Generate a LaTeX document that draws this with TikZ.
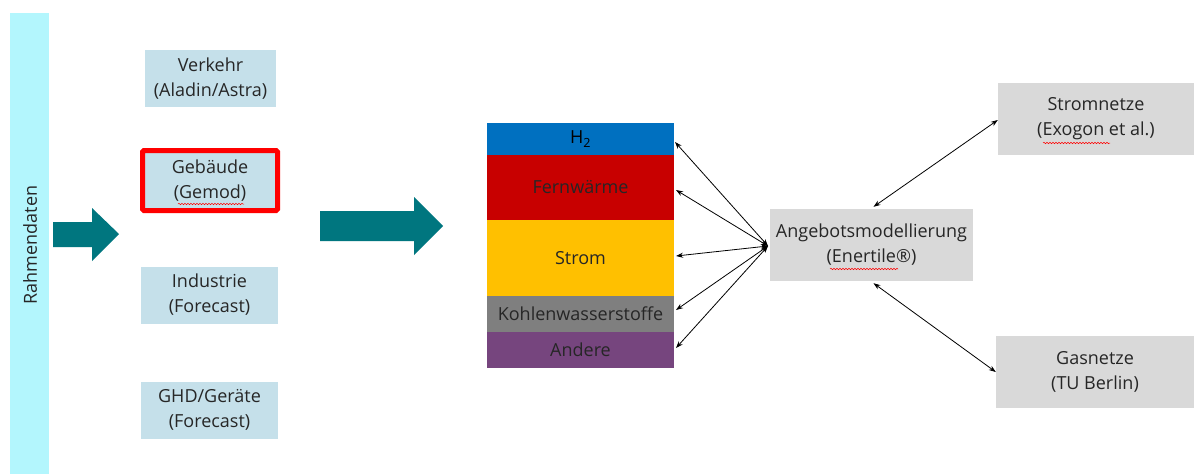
\documentclass[tikz,border=0pt]{standalone}
\usepackage{fontspec}
\setmainfont{Open Sans}
\usetikzlibrary{arrows.meta,decorations.pathmorphing}
\definecolor{rahmen}{HTML}{B3F6FD}
\definecolor{sekt}{HTML}{C5E0EA}
\definecolor{teal}{HTML}{00767F}
\definecolor{grau}{HTML}{D9D9D9}
\definecolor{htwo}{HTML}{0070C0}
\definecolor{fern}{HTML}{C80000}
\definecolor{strom}{HTML}{FFC000}
\definecolor{kohle}{HTML}{7F7F7F}
\definecolor{andere}{HTML}{76457E}
\definecolor{txt}{HTML}{262626}
\begin{document}
\begin{tikzpicture}[x=1pt,y=-1pt,
  every node/.style={font=\fontsize{18}{25}\selectfont, text=txt, align=center, inner sep=0pt},
  sektor/.style={fill=sekt, minimum width=#1, minimum height=57},
  layer/.style={fill=#1, minimum width=187},
  modell/.style={fill=grau, minimum height=72},
  link/.style={{Stealth[length=7pt,width=5pt]}-{Stealth[length=7pt,width=5pt]}, line width=0.8pt, black},
  spell/.style={draw=red, line width=0.5pt, decorate, decoration={snake, amplitude=0.7pt, segment length=3pt}}]
\useasboundingbox (0,0) rectangle (1194,474);
\fill[white] (0,0) rectangle (1194,474);
% Rahmendaten
\node[fill=rahmen, minimum width=39, minimum height=461, anchor=north west] (rahmen) at (10,13) {};
\node[rotate=90] (rtext) at (30,245) {Rahmendaten};
% block arrows
\fill[teal] (53,222) -- (92,222) -- (92,208) -- (119,234) -- (92,261) -- (92,247) -- (53,247) -- cycle;
\fill[teal] (320,211) -- (414,211) -- (414,197) -- (443,226) -- (414,255) -- (414,241) -- (320,241) -- cycle;
% sectors
\node[sektor=131] (verkehr) at (210.5,78.5) {Verkehr\\(Aladin/Astra)};
\node[fill=sekt, draw=red, line width=5pt, rounded corners=1.5pt, minimum width=135, minimum height=60] (gebaeude) at (210,180.5) {Gebäude\\(Gemod)};
\node[sektor=137] (industrie) at (209.5,295) {Industrie\\(Forecast)};
\node[sektor=137] (ghd) at (209.5,410) {GHD/Geräte\\(Forecast)};
% stack
\node[layer=htwo, minimum height=32, text=black] (h2) at (580.5,139) {H\textsubscript{2}};
\node[layer=fern, minimum height=65] (fw) at (580.5,187.5) {Fernwärme};
\node[layer=strom, minimum height=76] (strom) at (580.5,258) {Strom};
\node[layer=kohle, minimum height=36] (kw) at (580.5,314) {Kohlenwasserstoffe};
\node[layer=andere, minimum height=36] (and) at (580.5,350) {Andere};
% models
\node[modell, minimum width=203] (angebot) at (871.5,245) {Angebotsmodellierung\\(Enertile®)};
\node[modell, minimum width=196] (stromnetz) at (1096,119) {Stromnetze\\(Exogon et al.)};
\node[modell, minimum width=198] (gasnetz) at (1095,372) {Gasnetze\\(TU Berlin)};
% spell-check marks
\draw[spell] (178,204) -- (244,204);
\draw[spell] (830,269) -- (898,269);
\draw[spell] (1043,143) -- (1110,143);
% connectors
\coordinate (hub) at (768,246);
\coordinate (e1) at (675,142);
\coordinate (e2) at (676,190);
\coordinate (e3) at (676,256);
\coordinate (e4) at (676,310);
\coordinate (e5) at (676,348);
\foreach \e in {e1,e2,e3,e4,e5} \draw[link] (hub) -- (\e);
\draw[link] (angebot.north) ++(2,-2) coordinate (an) -- (stromnetz.west |- 0,120);
\draw[link] (angebot.south) ++(2,2) coordinate (as) -- (gasnetz.west |- 0,372);
\end{tikzpicture}
\end{document}
